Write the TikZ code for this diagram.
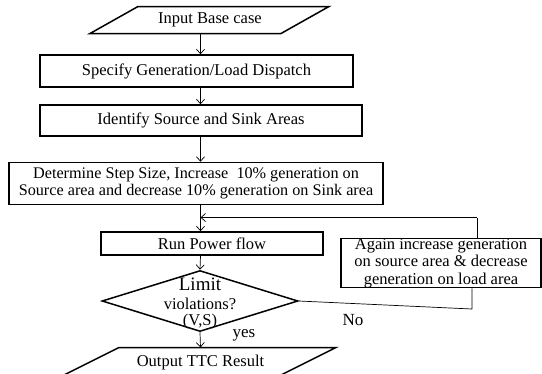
\documentclass[tikz,border=0pt]{standalone}
\usepackage{fontspec}
\setmainfont{Liberation Serif}
\usetikzlibrary{arrows.meta,shapes.geometric}
\begin{document}
\begin{tikzpicture}[x=1pt,y=-1pt,
  font=\fontsize{16.5}{17.5}\selectfont,
  box/.style={draw, line width=1.5pt, inner sep=0pt, align=center},
  txt/.style={inner sep=0pt, align=center},
  arr/.style={-{Straight Barb[length=4.5pt,width=8pt]}, line width=0.7pt},
  ln/.style={line width=0.7pt}]
\clip (0,0) rectangle (542,373);
\useasboundingbox (0,0) rectangle (542,373);
\coordinate (axis) at (200.5,0);
% input parallelogram
\node[txt, minimum width=190pt, minimum height=27pt] (in) at (210,20) {Input Base case};
\draw[line width=1.5pt] (90,33.5) -- (281,33.5) -- (329,6.5) -- (138,6.5) -- cycle;
\coordinate (inb) at (200.5,33.5);
% boxes
\node[box, minimum width=313pt, minimum height=32pt] (sp) at (196.5,71) {Specify Generation/Load Dispatch};
\node[box, minimum width=322pt, minimum height=31pt] (id) at (201,120.5) {Identify Source and Sink Areas};
\node[box, minimum width=374pt, minimum height=42pt] (det) at (196,183.5) {\fontsize{16.2}{17.5}\selectfont Determine Step Size, Increase\ \ 10\% generation on\\\fontsize{16.2}{17.5}\selectfont Source area and decrease 10\% generation on Sink area};
\node[box, minimum width=222pt, minimum height=23pt] (run) at (212,243.5) {Run Power flow};
\node[box, minimum width=200pt, minimum height=47.5pt] (ag) at (441,263) {Again increase generation\\on source area \& decrease\\generation on load area};
\node[draw, diamond, line width=1.5pt, minimum width=196pt, minimum height=61pt, inner sep=0pt] (dia) at (200,301) {};
\node[txt] (lim) at (200,284) {\fontsize{19}{19}\selectfont Limit};
\node[txt] (vio) at (200,304) {violations?};
\node[txt] (vs) at (200,321.5) {(V,S)};
% output parallelogram
\node[txt, minimum width=200pt, minimum height=24pt] (out) at (200.5,363) {Output TTC Result};
\draw[line width=1.5pt] (62,376) -- (279,376) -- (336,347.5) -- (119,347.5) -- cycle;
\coordinate (outt) at (200.5,347.5);
% labels
\node[txt, font=\fontsize{17}{17}\selectfont] (yes) at (244,335) {yes};
\node[txt, font=\fontsize{17}{17}\selectfont] (no) at (353,320) {No};
% connectors
\draw[arr] (inb) -- (sp.north -| axis);
\draw[arr] (sp.south -| axis) -- (id.north -| axis);
\draw[arr] (id.south -| axis) -- (det.north -| axis);
\draw[arr] (det.south -| axis) -- (run.north -| axis);
\draw[arr] (run.south -| axis) -- (dia.north);
\draw[arr] (dia.south) -- (outt);
\coordinate (fb1) at (477,217.5);
\coordinate (fb2) at (472,309);
\draw[ln] (ag.north -| fb1) -- (fb1);
\draw[arr] (fb1) -- (fb1 -| axis);
\draw[ln] (dia.east) -- (fb2) -- (ag.south -| fb2);
\end{tikzpicture}
\end{document}
